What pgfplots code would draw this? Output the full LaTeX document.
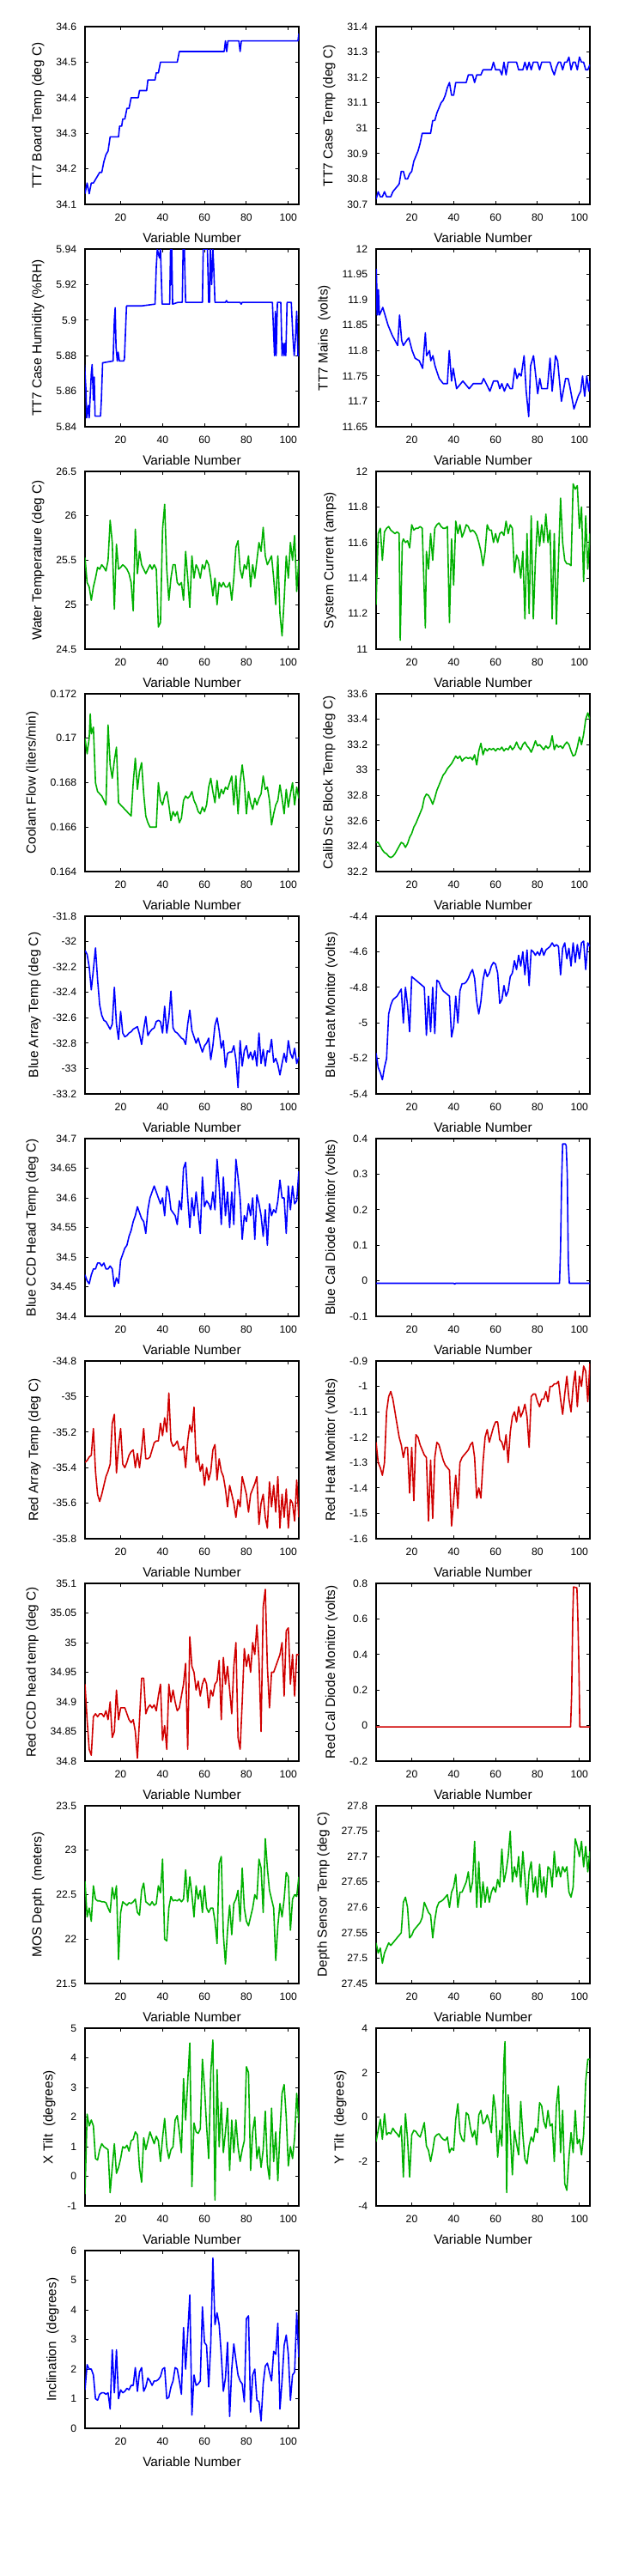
\documentclass[border=0pt]{standalone}
\usepackage{fontspec}
\setmainfont{Liberation Sans}
\usepackage{pgfplots}
\pgfplotsset{compat=1.18}
\definecolor{mblue}{RGB}{0,0,255}
\definecolor{mgreen}{RGB}{0,176,0}
\definecolor{mred}{RGB}{208,0,0}
\pgfplotsset{
 base/.style={scale only axis, width=124.5pt, height=103.5pt, xmin=3, xmax=105,
  xtick={20,40,60,80,100}, xticklabels={20,40,60,80,100},
  tick align=inside, major tick length=2pt, minor tick num=0,
  scaled ticks=false,
  axis line style={line width=0.9pt},
  every tick/.style={black,line width=0.5pt},
  tick label style={font=\fontsize{6.1}{7}\selectfont},
  xticklabel style={yshift=-1.8pt},
  yticklabel style={xshift=-1.4pt},
  xlabel={Variable Number},
  xlabel style={font=\fontsize{7.7}{9}\selectfont},
  ylabel style={font=\fontsize{7.7}{9}\selectfont},
  every axis plot/.append style={line width=0.8pt, line join=round},
 },
 bl/.style={mblue}, gr/.style={mgreen}, rd/.style={mred},
}
\begin{document}
\begin{tikzpicture}
% Row 1
\begin{axis}[base, at={(49.5pt,-119pt)}, ymin=34.1, ymax=34.6,
 ytick={34.1,34.2,34.3,34.4,34.5,34.6}, yticklabels={34.1,34.2,34.3,34.4,34.5,34.6},
 ylabel={TT7 Board Temp (deg C)}]
\addplot[bl] coordinates {(3,34.13)(4,34.16)(5,34.13)(6,34.16)(7,34.16)(8,34.17)(9,34.18)(10,34.19)(11,34.19)(12,34.22)(13,34.24)(14,34.25)(15,34.29)(19,34.29)(19.5,34.32)(20.5,34.32)(21,34.34)(22,34.34)(23,34.37)(24,34.37)(25,34.40)(28.4,34.40)(29,34.42)(32.4,34.42)(33,34.45)(36.4,34.45)(37,34.47)(38,34.47)(39,34.50)(47,34.50)(48,34.53)(69.4,34.53)(70,34.56)(70.6,34.53)(71.2,34.56)(76.4,34.56)(77,34.53)(77.6,34.56)(104.6,34.56)(105,34.58)};
\end{axis}
\begin{axis}[base, at={(219pt,-119pt)}, ymin=30.7, ymax=31.4,
 ytick={30.7,30.8,30.9,31,31.1,31.2,31.3,31.4}, yticklabels={30.7,30.8,30.9,31,31.1,31.2,31.3,31.4},
 ylabel={TT7 Case Temp (deg C)}]
\addplot[bl] coordinates {(3,30.72)(4,30.75)(5,30.73)(6,30.73)(7,30.75)(8,30.73)(10,30.73)(11,30.75)(12,30.76)(13,30.77)(14,30.78)(15,30.83)(16,30.83)(17,30.80)(18,30.80)(19,30.82)(20,30.83)(21,30.87)(22,30.89)(23,30.91)(24,30.94)(25,30.98)(29,30.98)(30,31.03)(31,31.03)(32,31.06)(33,31.08)(34,31.10)(35,31.11)(36,31.13)(37,31.16)(38,31.18)(39,31.13)(40,31.13)(41,31.18)(46,31.18)(47,31.21)(49,31.21)(50,31.18)(51,31.21)(53,31.21)(54,31.23)(58,31.23)(59,31.26)(60,31.23)(62,31.23)(63,31.21)(64,31.26)(65,31.21)(66,31.26)(70,31.26)(71,31.23)(73,31.23)(74,31.26)(75,31.23)(76,31.26)(77,31.23)(78,31.26)(80,31.26)(81,31.23)(82,31.26)(86,31.26)(87,31.23)(88,31.21)(89,31.24)(90,31.26)(91,31.26)(92,31.23)(93,31.26)(94,31.26)(95,31.28)(96,31.23)(97,31.26)(98,31.26)(99,31.23)(100,31.28)(101,31.26)(102,31.26)(103,31.23)(104,31.23)(105,31.25)};
\end{axis}
% Row 2
\begin{axis}[base, at={(49.5pt,-248.5pt)}, ymin=5.84, ymax=5.94,
 ytick={5.84,5.86,5.88,5.9,5.92,5.94}, yticklabels={5.84,5.86,5.88,5.9,5.92,5.94},
 ylabel={TT7 Case Humidity (\%RH)}]
\addplot[bl] coordinates {(2.8,5.875)(3.4,5.862)(3.8,5.845)(4.6,5.852)(5,5.845)(6,5.87)(6.4,5.875)(7,5.855)(7.4,5.868)(7.8,5.846)(10.4,5.846)(10.8,5.855)(11.4,5.876)(16.4,5.877)(17,5.9)(17.4,5.907)(17.8,5.885)(18.4,5.877)(18.8,5.882)(19.4,5.877)(21.4,5.877)(21.8,5.878)(22.8,5.908)(30,5.908)(36.4,5.909)(37,5.93)(37.5,5.94)(38.5,5.935)(39,5.94)(39.8,5.909)(43.4,5.909)(43.8,5.94)(44.1,5.92)(44.4,5.94)(44.8,5.909)(47.4,5.91)(49.4,5.91)(49.8,5.94)(50.4,5.94)(51,5.91)(59,5.91)(59.4,5.94)(61.4,5.94)(62,5.91)(62.4,5.91)(62.8,5.94)(63.4,5.92)(64,5.94)(64.4,5.93)(65,5.91)(70,5.91)(70.5,5.911)(71,5.91)(77,5.91)(77.5,5.909)(78,5.91)(92.4,5.91)(93.4,5.88)(93.8,5.905)(94.2,5.88)(94.8,5.91)(96.4,5.91)(97,5.88)(97.5,5.887)(98,5.88)(98.4,5.887)(98.8,5.88)(99.4,5.91)(101.4,5.91)(102.2,5.89)(102.8,5.88)(103.4,5.89)(104,5.905)(104.6,5.88)(105,5.88)};
\end{axis}
\begin{axis}[base, at={(219pt,-248.5pt)}, ymin=11.65, ymax=12,
 ytick={11.65,11.7,11.75,11.8,11.85,11.9,11.95,12}, yticklabels={11.65,11.7,11.75,11.8,11.85,11.9,11.95,12},
 ylabel={TT7 Mains\ \ (volts)}]
\addplot[bl] coordinates {(2.8,11.87)(3.1,11.96)(3.7,11.87)(4.1,11.92)(4.6,11.87)(5.7,11.88)(6.2,11.885)(8.7,11.85)(10.7,11.83)(13.3,11.81)(14.2,11.87)(15.2,11.82)(16,11.81)(17.6,11.82)(18.6,11.825)(20.2,11.80)(21.6,11.785)(23.6,11.78)(25.2,11.765)(26.5,11.835)(27.1,11.79)(28.5,11.80)(29.1,11.78)(30.1,11.79)(31.1,11.77)(33.1,11.745)(35,11.735)(37,11.735)(37.9,11.80)(39,11.74)(39.8,11.765)(41.4,11.725)(44.4,11.74)(47.4,11.725)(49.4,11.735)(53.3,11.735)(54.3,11.745)(57.3,11.72)(59,11.74)(61,11.74)(62,11.725)(63,11.735)(64.2,11.72)(65.6,11.735)(67,11.725)(68,11.725)(69.2,11.765)(70.2,11.745)(71.2,11.755)(72.2,11.75)(73.6,11.79)(74.6,11.72)(75.8,11.67)(76.7,11.77)(78.1,11.79)(80.1,11.715)(81.1,11.745)(82,11.725)(84.7,11.725)(86,11.785)(87,11.72)(88.6,11.79)(89.6,11.78)(91.4,11.70)(93.4,11.745)(94.6,11.745)(95.4,11.73)(97.4,11.685)(99.4,11.71)(100.6,11.72)(101.5,11.75)(102.5,11.71)(103.5,11.75)(104.5,11.72)(105,11.74)};
\end{axis}
% Row 3
\begin{axis}[base, at={(49.5pt,-378pt)}, ymin=24.5, ymax=26.5,
 ytick={24.5,25,25.5,26,26.5}, yticklabels={24.5,25,25.5,26,26.5},
 ylabel={Water Temperature (deg C)}]
\addplot[gr] coordinates {(3,25.53)(4,25.25)(5,25.2)(6,25.05)(7,25.2)(8,25.3)(9,25.42)(10,25.4)(11,25.45)(12,25.42)(13,25.38)(14,25.5)(15,25.95)(16,25.7)(17,24.95)(18,25.68)(19,25.4)(20,25.42)(21,25.45)(22,25.43)(23,25.4)(24,25.35)(25,25.25)(26,24.93)(27,25.85)(28,25.35)(29,25.6)(30,25.45)(31,25.4)(32,25.35)(33,25.4)(34,25.45)(35,25.4)(36,25.45)(37,25.4)(38,24.75)(39,24.8)(40,25.85)(41,26.13)(42,25.4)(43,25.05)(44,25.3)(45,25.45)(46,25.45)(47,25.25)(48,25.22)(49,25.25)(50,25.05)(51,25.6)(52,25.3)(53,24.97)(54,25.55)(55,25.3)(56,25.45)(57,25.4)(58,25.3)(59,25.45)(60,25.4)(61,25.5)(62,25.45)(63,25.3)(64,25.1)(65,25.3)(66,25.0)(67,25.25)(68,25.2)(69,25.25)(70,25.2)(71,25.2)(72,25.25)(73,25.05)(74,25.3)(75,25.65)(76,25.72)(77,25.4)(78,25.3)(79,25.45)(80,25.4)(81,25.55)(82,25.2)(83,25.45)(84,25.3)(85,25.5)(86,25.7)(87,25.6)(88,25.87)(89,25.55)(90,25.45)(91,25.5)(92,25.55)(93,25.3)(94,25.0)(95,25.55)(96,24.9)(97,24.65)(98,25.05)(99,25.55)(100,25.3)(101,25.7)(102,25.5)(103,25.78)(104,25.15)(105,25.5)};
\end{axis}
\begin{axis}[base, at={(219pt,-378pt)}, ymin=11, ymax=12,
 ytick={11,11.2,11.4,11.6,11.8,12}, yticklabels={11,11.2,11.4,11.6,11.8,12},
 ylabel={System Current (amps)}]
\addplot[gr] coordinates {(3,11.25)(4,11.65)(5,11.68)(6,11.5)(7,11.66)(8,11.68)(9,11.69)(10,11.67)(11,11.66)(12,11.65)(13,11.66)(14,11.65)(14.5,11.05)(15.5,11.6)(16,11.62)(17,11.6)(18,11.61)(19,11.57)(20,11.7)(21,11.67)(22,11.68)(23,11.68)(24,11.69)(25,11.68)(26.5,11.12)(27,11.55)(28,11.45)(29,11.65)(30,11.5)(31,11.68)(32,11.7)(33,11.71)(34,11.69)(35,11.68)(36,11.68)(37,11.69)(38,11.15)(39,11.62)(40,11.36)(41,11.72)(42,11.65)(43,11.7)(44,11.63)(45,11.66)(46,11.7)(47,11.69)(48,11.66)(49,11.67)(50,11.66)(51,11.64)(52,11.6)(53,11.55)(54,11.47)(55,11.55)(56,11.7)(57,11.67)(58,11.67)(59,11.6)(60,11.65)(61,11.6)(62,11.65)(63,11.66)(64,11.64)(65,11.72)(66,11.65)(67,11.7)(68,11.68)(69,11.43)(70,11.53)(71,11.5)(72,11.4)(73,11.55)(74,11.17)(75,11.65)(76,11.2)(77,11.75)(78,11.17)(79,11.5)(80,11.72)(81,11.58)(82,11.7)(83,11.6)(84,11.76)(85,11.6)(86,11.67)(87,11.17)(88,11.65)(89,11.14)(90,11.5)(91,11.85)(92,11.6)(93,11.5)(94,11.48)(95,11.48)(96,11.47)(97,11.93)(98,11.9)(99,11.92)(100,11.68)(101,11.8)(102,11.38)(103,11.75)(104,11.45)(105,11.65)};
\end{axis}
% Row 4
\begin{axis}[base, at={(49.5pt,-507.5pt)}, ymin=0.164, ymax=0.172,
 ytick={0.164,0.166,0.168,0.17,0.172}, yticklabels={0.164,0.166,0.168,0.17,0.172},
 ylabel={Coolant Flow (liters/min)}]
\addplot[gr] coordinates {(3,0.1700)(4,0.1693)(5,0.1700)(5.5,0.1711)(6,0.1702)(7,0.1705)(8,0.1680)(9,0.1676)(10,0.1675)(11,0.1674)(12,0.1672)(13,0.1670)(14,0.1706)(15,0.1688)(16,0.1682)(17,0.1690)(18,0.1696)(19,0.1671)(20,0.1670)(21,0.1669)(22,0.1668)(23,0.1667)(24,0.1666)(25,0.1665)(26,0.1680)(27,0.1691)(28,0.1677)(29,0.1685)(30,0.1689)(31,0.1675)(32,0.1665)(33,0.1662)(34,0.1660)(35,0.1660)(36,0.1660)(37,0.1660)(38,0.1680)(39,0.1672)(40,0.1670)(41,0.1674)(42,0.1676)(43,0.1670)(44,0.1663)(45,0.1667)(46,0.1665)(47,0.1667)(48,0.1662)(49,0.1664)(50,0.1672)(51,0.1674)(52,0.1673)(53,0.1674)(54,0.1676)(55,0.1672)(56,0.1670)(57,0.1667)(58,0.1666)(59,0.1669)(60,0.1667)(61,0.1670)(62,0.1678)(63,0.1682)(64,0.1676)(65,0.1671)(66,0.1681)(67,0.1673)(68,0.1677)(69,0.1675)(70,0.1678)(71,0.1677)(72,0.1680)(73,0.1683)(74,0.1670)(75,0.1683)(76,0.1666)(77,0.1680)(78,0.1688)(79,0.1680)(80,0.1666)(81,0.1676)(82,0.1671)(83,0.1668)(84,0.1673)(85,0.1670)(86,0.1673)(87,0.1675)(88,0.1683)(89,0.1677)(90,0.1678)(91,0.1672)(92,0.1661)(93,0.1666)(94,0.1670)(95,0.1672)(96,0.1679)(97,0.1673)(98,0.1666)(99,0.1677)(100,0.1669)(101,0.1675)(102,0.1680)(103,0.1670)(104,0.1678)(105,0.1673)};
\end{axis}
\begin{axis}[base, at={(219pt,-507.5pt)}, ymin=32.2, ymax=33.6,
 ytick={32.2,32.4,32.6,32.8,33,33.2,33.4,33.6}, yticklabels={32.2,32.4,32.6,32.8,33,33.2,33.4,33.6},
 ylabel={Calib Src Block Temp (deg C)}]
\addplot[gr] coordinates {(3,32.43)(4,32.43)(5,32.40)(6,32.37)(7,32.35)(8,32.34)(9,32.32)(10,32.31)(11,32.32)(12,32.34)(13,32.37)(14,32.40)(15,32.43)(16,32.42)(17,32.39)(18,32.42)(19,32.47)(20,32.50)(21,32.55)(22,32.58)(23,32.62)(24,32.66)(25,32.70)(26,32.78)(27,32.81)(28,32.80)(29,32.77)(30,32.73)(31,32.78)(32,32.84)(33,32.88)(34,32.92)(35,32.96)(36,32.98)(37,33.01)(38,33.03)(39,33.05)(40,33.08)(41,33.11)(42,33.09)(43,33.11)(44,33.07)(45,33.09)(46,33.10)(47,33.09)(48,33.10)(49,33.08)(50,33.12)(51,33.04)(52,33.15)(53,33.21)(54,33.12)(55,33.17)(56,33.15)(57,33.17)(58,33.16)(59,33.17)(60,33.15)(61,33.17)(62,33.16)(63,33.18)(64,33.15)(65,33.17)(66,33.16)(67,33.19)(68,33.16)(69,33.18)(70,33.22)(71,33.18)(72,33.16)(73,33.20)(74,33.22)(75,33.19)(76,33.17)(77,33.14)(78,33.18)(79,33.23)(80,33.19)(81,33.20)(82,33.18)(83,33.16)(84,33.19)(85,33.17)(86,33.19)(87,33.27)(88,33.16)(89,33.20)(90,33.18)(91,33.19)(92,33.17)(93,33.20)(94,33.22)(95,33.20)(96,33.15)(97,33.11)(98,33.12)(99,33.18)(100,33.26)(101,33.20)(102,33.28)(103,33.40)(104,33.45)(105,33.40)};
\end{axis}
% Row 5
\begin{axis}[base, at={(49.5pt,-637pt)}, ymin=-33.2, ymax=-31.8,
 ytick={-33.2,-33,-32.8,-32.6,-32.4,-32.2,-32,-31.8}, yticklabels={-33.2,-33,-32.8,-32.6,-32.4,-32.2,-32,-31.8},
 ylabel={Blue Array Temp (deg C)}]
\addplot[bl] coordinates {(3,-32.07)(4,-32.1)(5,-32.2)(6,-32.38)(7,-32.22)(8,-32.05)(9,-32.3)(10,-32.5)(11,-32.58)(12,-32.62)(13,-32.63)(14,-32.66)(15,-32.69)(16,-32.65)(17,-32.36)(18,-32.65)(19,-32.77)(20,-32.55)(21,-32.72)(22,-32.75)(23,-32.74)(24,-32.72)(25,-32.71)(26,-32.69)(27,-32.68)(28,-32.67)(29,-32.73)(30,-32.81)(31,-32.69)(32,-32.59)(33,-32.74)(34,-32.71)(35,-32.69)(36,-32.68)(37,-32.63)(38,-32.62)(39,-32.63)(40,-32.72)(41,-32.51)(42,-32.72)(43,-32.6)(44,-32.39)(45,-32.68)(46,-32.71)(47,-32.72)(48,-32.74)(49,-32.76)(50,-32.77)(51,-32.81)(52,-32.65)(53,-32.54)(54,-32.7)(55,-32.75)(56,-32.8)(57,-32.76)(58,-32.82)(59,-32.87)(60,-32.82)(61,-32.8)(62,-32.76)(63,-32.93)(64,-32.82)(65,-32.66)(66,-32.6)(67,-32.7)(68,-32.84)(69,-32.78)(70,-32.99)(71,-32.88)(72,-32.87)(73,-32.87)(74,-32.82)(75,-32.93)(76,-33.15)(77,-32.78)(78,-32.98)(79,-32.86)(80,-32.82)(81,-32.92)(82,-32.87)(83,-32.93)(84,-32.86)(85,-32.98)(86,-32.72)(87,-32.96)(88,-32.85)(89,-32.98)(90,-32.86)(91,-32.87)(92,-32.77)(93,-32.95)(94,-32.92)(95,-32.97)(96,-33.05)(97,-32.96)(98,-32.88)(99,-32.95)(100,-32.78)(101,-32.88)(102,-32.92)(103,-32.84)(104,-32.96)(105,-32.91)};
\end{axis}
\begin{axis}[base, at={(219pt,-637pt)}, ymin=-5.4, ymax=-4.4,
 ytick={-5.4,-5.2,-5,-4.8,-4.6,-4.4}, yticklabels={-5.4,-5.2,-5,-4.8,-4.6,-4.4},
 ylabel={Blue Heat Monitor (volts)}]
\addplot[bl] coordinates {(3,-5.17)(4,-5.25)(5,-5.28)(6,-5.32)(7,-5.25)(8,-5.2)(9,-4.95)(10,-4.9)(11,-4.87)(12,-4.86)(13,-4.85)(14,-4.83)(15,-4.81)(16,-5.0)(17,-4.80)(18,-4.90)(19,-5.05)(20,-4.74)(21,-4.75)(22,-4.76)(23,-4.77)(24,-4.78)(25,-4.79)(26,-4.80)(27,-5.07)(28,-4.85)(29,-5.05)(30,-4.80)(31,-5.06)(32,-4.76)(33,-4.77)(34,-4.80)(35,-4.82)(36,-4.83)(37,-4.84)(38,-4.85)(39,-5.08)(40,-5.02)(41,-4.85)(42,-5.0)(43,-4.82)(44,-4.78)(45,-4.78)(46,-4.77)(47,-4.75)(48,-4.72)(49,-4.70)(50,-4.75)(51,-4.88)(52,-4.95)(53,-4.88)(54,-4.76)(55,-4.70)(56,-4.74)(57,-4.72)(58,-4.68)(59,-4.66)(60,-4.67)(61,-4.72)(62,-4.89)(63,-4.87)(64,-4.79)(65,-4.85)(66,-4.82)(67,-4.74)(68,-4.72)(69,-4.65)(70,-4.70)(71,-4.62)(72,-4.68)(73,-4.60)(74,-4.73)(75,-4.59)(76,-4.79)(77,-4.59)(78,-4.60)(79,-4.62)(80,-4.60)(81,-4.62)(82,-4.58)(83,-4.62)(84,-4.59)(85,-4.58)(86,-4.57)(87,-4.55)(88,-4.57)(89,-4.56)(90,-4.57)(91,-4.73)(92,-4.58)(93,-4.55)(94,-4.64)(95,-4.58)(96,-4.68)(97,-4.55)(98,-4.66)(99,-4.56)(100,-4.64)(101,-4.55)(102,-4.54)(103,-4.70)(104,-4.55)(105,-4.57)};
\end{axis}
% Row 6
\begin{axis}[base, at={(49.5pt,-766.5pt)}, ymin=34.4, ymax=34.7,
 ytick={34.4,34.45,34.5,34.55,34.6,34.65,34.7}, yticklabels={34.4,34.45,34.5,34.55,34.6,34.65,34.7},
 ylabel={Blue CCD Head Temp (deg C)}]
\addplot[bl] coordinates {(3,34.47)(4,34.46)(5,34.455)(6,34.47)(7,34.48)(8,34.48)(9,34.49)(10,34.49)(11,34.485)(12,34.49)(13,34.48)(14,34.48)(15,34.485)(16,34.48)(17,34.45)(18,34.465)(19,34.456)(20,34.495)(21,34.505)(22,34.515)(23,34.52)(24,34.535)(25,34.545)(26,34.56)(27,34.57)(28,34.585)(29,34.575)(30,34.565)(31,34.56)(32,34.54)(33,34.58)(34,34.60)(35,34.61)(36,34.62)(37,34.61)(38,34.60)(39,34.59)(40,34.60)(41,34.57)(42,34.62)(43,34.61)(44,34.58)(45,34.575)(46,34.57)(47,34.555)(48,34.595)(49,34.58)(50,34.65)(51,34.66)(52,34.60)(53,34.55)(54,34.60)(55,34.57)(56,34.61)(57,34.575)(58,34.54)(59,34.635)(60,34.585)(61,34.595)(62,34.59)(63,34.58)(64,34.61)(65,34.58)(66,34.665)(67,34.62)(68,34.555)(69,34.635)(70,34.57)(71,34.61)(72,34.55)(73,34.61)(74,34.555)(75,34.665)(76,34.635)(77,34.60)(78,34.53)(79,34.57)(80,34.56)(81,34.59)(82,34.57)(83,34.60)(84,34.53)(85,34.605)(86,34.59)(87,34.57)(88,34.535)(89,34.58)(90,34.52)(91,34.59)(92,34.57)(93,34.58)(94,34.575)(95,34.595)(96,34.63)(97,34.6)(98,34.6)(99,34.54)(100,34.62)(101,34.58)(102,34.62)(103,34.59)(104,34.595)(105,34.645)};
\end{axis}
\begin{axis}[base, at={(219pt,-766.5pt)}, ymin=-0.1, ymax=0.4,
 ytick={-0.1,0,0.1,0.2,0.3,0.4}, yticklabels={-0.1,0,0.1,0.2,0.3,0.4},
 ylabel={Blue Cal Diode Monitor (volts)}]
\addplot[bl] coordinates {(3,-0.007)(40,-0.007)(40.5,-0.009)(41,-0.007)(90.5,-0.007)(91,0.09)(91.5,0.28)(92,0.385)(93.3,0.385)(93.7,0.38)(94.2,0.3)(94.7,0.05)(95.2,-0.007)(105,-0.007)};
\end{axis}
% Row 7
\begin{axis}[base, at={(49.5pt,-896pt)}, ymin=-35.8, ymax=-34.8,
 ytick={-35.8,-35.6,-35.4,-35.2,-35,-34.8}, yticklabels={-35.8,-35.6,-35.4,-35.2,-35,-34.8},
 ylabel={Red Array Temp (deg C)}]
\addplot[rd] coordinates {(3,-35.37)(4,-35.36)(5,-35.34)(6,-35.33)(7,-35.18)(8,-35.42)(9,-35.55)(10,-35.59)(11,-35.55)(12,-35.50)(13,-35.45)(14,-35.42)(15,-35.38)(16,-35.15)(17,-35.10)(18,-35.43)(19,-35.28)(20,-35.18)(21,-35.38)(22,-35.40)(23,-35.37)(24,-35.33)(25,-35.31)(26,-35.30)(27,-35.40)(28,-35.32)(29,-35.40)(30,-35.30)(31,-35.18)(32,-35.35)(33,-35.35)(34,-35.34)(35,-35.30)(36,-35.26)(37,-35.25)(38,-35.25)(39,-35.15)(40,-35.22)(41,-35.12)(42,-35.20)(43,-34.98)(44,-35.25)(45,-35.28)(46,-35.27)(47,-35.25)(48,-35.30)(49,-35.30)(50,-35.28)(51,-35.40)(52,-35.25)(53,-35.16)(54,-35.20)(55,-35.06)(56,-35.37)(57,-35.33)(58,-35.42)(59,-35.38)(60,-35.50)(61,-35.40)(62,-35.47)(63,-35.42)(64,-35.30)(65,-35.27)(66,-35.47)(67,-35.35)(68,-35.42)(69,-35.45)(70,-35.52)(71,-35.62)(72,-35.50)(73,-35.55)(74,-35.60)(75,-35.68)(76,-35.58)(77,-35.62)(78,-35.45)(79,-35.50)(80,-35.55)(81,-35.65)(82,-35.55)(83,-35.52)(84,-35.49)(85,-35.45)(86,-35.72)(87,-35.60)(88,-35.55)(89,-35.68)(90,-35.74)(91,-35.48)(92,-35.62)(93,-35.50)(94,-35.65)(95,-35.45)(96,-35.74)(97,-35.55)(98,-35.68)(99,-35.52)(100,-35.74)(101,-35.58)(102,-35.60)(103,-35.70)(104,-35.47)(105,-35.68)};
\end{axis}
\begin{axis}[base, at={(219pt,-896pt)}, ymin=-1.6, ymax=-0.9,
 ytick={-1.6,-1.5,-1.4,-1.3,-1.2,-1.1,-1,-0.9}, yticklabels={-1.6,-1.5,-1.4,-1.3,-1.2,-1.1,-1,-0.9},
 ylabel={Red Heat Monitor (volts)}]
\addplot[rd] coordinates {(3,-1.22)(4,-1.30)(5,-1.32)(6,-1.35)(7,-1.30)(8,-1.10)(9,-1.04)(10,-1.02)(11,-1.05)(12,-1.10)(13,-1.15)(14,-1.20)(15,-1.23)(16,-1.28)(17,-1.24)(18,-1.24)(19,-1.42)(20,-1.24)(21,-1.45)(22,-1.19)(23,-1.20)(24,-1.23)(25,-1.25)(26,-1.27)(27,-1.28)(28,-1.53)(29,-1.29)(30,-1.52)(31,-1.28)(32,-1.22)(33,-1.23)(34,-1.26)(35,-1.29)(36,-1.31)(37,-1.32)(38,-1.33)(39,-1.55)(40,-1.45)(41,-1.35)(42,-1.48)(43,-1.30)(44,-1.28)(45,-1.27)(46,-1.26)(47,-1.25)(48,-1.23)(49,-1.22)(50,-1.28)(51,-1.44)(52,-1.40)(53,-1.44)(54,-1.30)(55,-1.20)(56,-1.17)(57,-1.22)(58,-1.19)(59,-1.16)(60,-1.14)(61,-1.14)(62,-1.21)(63,-1.22)(64,-1.25)(65,-1.19)(66,-1.30)(67,-1.18)(68,-1.12)(69,-1.10)(70,-1.14)(71,-1.08)(72,-1.12)(73,-1.10)(74,-1.07)(75,-1.12)(76,-1.24)(77,-1.04)(78,-1.03)(79,-1.03)(80,-1.06)(81,-1.08)(82,-1.05)(83,-1.05)(84,-1.02)(85,-1.06)(86,-1.00)(87,-1.00)(88,-0.99)(89,-0.99)(90,-0.98)(91,-1.05)(92,-1.11)(93,-1.03)(94,-0.96)(95,-1.05)(96,-1.10)(97,-1.00)(98,-0.94)(99,-1.08)(100,-0.96)(101,-1.00)(102,-0.92)(103,-0.94)(104,-1.06)(105,-0.91)};
\end{axis}
% Row 8
\begin{axis}[base, at={(49.5pt,-1025.5pt)}, ymin=34.8, ymax=35.1,
 ytick={34.8,34.85,34.9,34.95,35,35.05,35.1}, yticklabels={34.8,34.85,34.9,34.95,35,35.05,35.1},
 ylabel={Red CCD head temp (deg C)}]
\addplot[rd] coordinates {(3,34.93)(4,34.87)(5,34.82)(6,34.81)(7,34.875)(8,34.88)(9,34.875)(10,34.88)(11,34.88)(12,34.875)(13,34.885)(14,34.87)(15,34.90)(16,34.84)(17,34.85)(18,34.92)(19,34.87)(20,34.89)(21,34.89)(22,34.89)(23,34.88)(24,34.87)(25,34.865)(26,34.87)(27,34.85)(28,34.805)(29,34.87)(30,34.94)(31,34.94)(32,34.88)(33,34.89)(34,34.895)(35,34.89)(36,34.895)(37,34.885)(38,34.91)(39,34.93)(40,34.835)(41,34.86)(42,34.82)(43,34.93)(44,34.90)(45,34.92)(46,34.90)(47,34.885)(48,34.89)(49,34.91)(50,34.93)(51,34.965)(52,34.82)(53,35.01)(54,34.96)(55,34.95)(56,34.92)(57,34.935)(58,34.91)(59,34.93)(60,34.94)(61,34.93)(62,34.89)(63,34.92)(64,34.91)(65,34.93)(66,34.935)(67,34.97)(68,34.87)(69,34.975)(70,34.93)(71,34.96)(72,34.92)(73,34.88)(74,34.96)(75,35.0)(76,34.84)(77,34.82)(78,34.90)(79,34.99)(80,34.96)(81,34.98)(82,34.95)(83,35.00)(84,34.98)(85,35.03)(86,34.97)(87,34.85)(88,35.06)(89,35.09)(90,34.96)(91,34.89)(92,34.95)(93,34.95)(94,34.96)(95,34.97)(96,34.98)(97,35.0)(98,34.91)(99,35.02)(100,35.025)(101,34.93)(102,34.98)(103,34.91)(104,34.98)(105,34.98)};
\end{axis}
\begin{axis}[base, at={(219pt,-1025.5pt)}, ymin=-0.2, ymax=0.8,
 ytick={-0.2,0,0.2,0.4,0.6,0.8}, yticklabels={-0.2,0,0.2,0.4,0.6,0.8},
 ylabel={Red Cal Diode Monitor (volts)}]
\addplot[rd] coordinates {(3,-0.007)(95.8,-0.007)(96.3,0.18)(96.8,0.6)(97.2,0.78)(98.8,0.775)(99.2,0.63)(99.7,0.37)(100.2,-0.007)(105,-0.007)};
\end{axis}
% Row 9
\begin{axis}[base, at={(49.5pt,-1155pt)}, ymin=21.5, ymax=23.5,
 ytick={21.5,22,22.5,23,23.5}, yticklabels={21.5,22,22.5,23,23.5},
 ylabel={MOS Depth\ \ (meters)}]
\addplot[gr] coordinates {(3,22.65)(4,22.25)(5,22.35)(6,22.2)(7,22.6)(8,22.45)(9,22.43)(10,22.43)(11,22.42)(12,22.42)(13,22.41)(14,22.35)(15,22.3)(16,22.58)(17,22.45)(18,22.6)(19,21.77)(20,22.3)(21,22.42)(22,22.40)(23,22.38)(24,22.41)(25,22.40)(26,22.42)(27,22.45)(28,22.3)(29,22.27)(30,22.55)(31,22.63)(32,22.42)(33,22.4)(34,22.38)(35,22.42)(36,22.38)(37,22.4)(38,22.6)(39,22.52)(40,22.9)(41,22.0)(42,21.98)(43,22.35)(44,22.48)(45,22.43)(46,22.44)(47,22.43)(48,22.45)(49,22.42)(50,22.45)(51,22.78)(52,22.42)(53,22.7)(54,22.5)(55,22.25)(56,22.6)(57,22.45)(58,22.55)(59,22.3)(60,22.6)(61,22.35)(62,22.3)(63,22.35)(64,22.35)(65,22.2)(66,21.95)(67,22.85)(68,22.93)(69,22.05)(70,21.72)(71,22.1)(72,22.38)(73,22.05)(74,22.4)(75,22.45)(76,22.55)(77,22.2)(78,22.8)(79,22.35)(80,22.2)(81,22.15)(82,22.25)(83,22.35)(84,22.5)(85,22.45)(86,22.9)(87,22.8)(88,22.3)(89,23.13)(90,22.8)(91,22.55)(92,22.45)(93,22.35)(94,21.76)(95,22.15)(96,22.4)(97,22.25)(98,22.45)(99,22.75)(100,22.7)(101,22.1)(102,22.45)(103,22.5)(104,22.48)(105,22.7)};
\end{axis}
\begin{axis}[base, at={(219pt,-1155pt)}, ymin=27.45, ymax=27.8,
 ytick={27.45,27.5,27.55,27.6,27.65,27.7,27.75,27.8}, yticklabels={27.45,27.5,27.55,27.6,27.65,27.7,27.75,27.8},
 ylabel={Depth Sensor Temp (deg C)}]
\addplot[gr] coordinates {(3,27.53)(4,27.51)(5,27.52)(6,27.49)(7,27.51)(8,27.52)(9,27.53)(10,27.525)(11,27.53)(12,27.535)(13,27.54)(14,27.545)(15,27.55)(16,27.61)(17,27.62)(18,27.6)(19,27.54)(20,27.545)(21,27.555)(22,27.56)(23,27.565)(24,27.57)(25,27.58)(26,27.61)(27,27.60)(28,27.59)(29,27.585)(30,27.54)(31,27.575)(32,27.6)(33,27.61)(34,27.612)(35,27.615)(36,27.62)(37,27.625)(38,27.60)(39,27.63)(40,27.64)(41,27.665)(42,27.60)(43,27.63)(44,27.63)(45,27.64)(46,27.65)(47,27.67)(48,27.63)(49,27.65)(50,27.73)(51,27.6)(52,27.69)(53,27.6)(54,27.65)(55,27.61)(56,27.64)(57,27.61)(58,27.63)(59,27.64)(60,27.63)(61,27.655)(62,27.64)(63,27.715)(64,27.65)(65,27.67)(66,27.70)(67,27.75)(68,27.65)(69,27.68)(70,27.66)(71,27.7)(72,27.64)(73,27.71)(74,27.66)(75,27.605)(76,27.67)(77,27.69)(78,27.63)(79,27.66)(80,27.62)(81,27.685)(82,27.63)(83,27.66)(84,27.62)(85,27.68)(86,27.675)(87,27.64)(88,27.71)(89,27.66)(90,27.68)(91,27.66)(92,27.68)(93,27.67)(94,27.68)(95,27.63)(96,27.62)(97,27.64)(98,27.735)(99,27.72)(100,27.70)(101,27.73)(102,27.68)(103,27.72)(104,27.67)(105,27.71)};
\end{axis}
% Row 10
\begin{axis}[base, at={(49.5pt,-1284.5pt)}, ymin=-1, ymax=5,
 ytick={-1,0,1,2,3,4,5}, yticklabels={-1,0,1,2,3,4,5},
 ylabel={X Tilt\ \ (degrees)}]
\addplot[gr] coordinates {(3,-0.6)(4,2.1)(5,1.7)(6,1.9)(7,1.7)(8,0.6)(9,0.55)(10,0.9)(11,1.1)(12,1.0)(13,0.95)(14,0.9)(15,-0.55)(16,0.3)(17,1.1)(18,0.1)(19,0.3)(20,0.6)(21,1.0)(22,0.95)(23,1.05)(24,0.85)(25,1.2)(26,1.25)(27,1.5)(28,1.4)(29,0.3)(30,-0.2)(31,1.3)(32,0.9)(33,1.2)(34,1.5)(35,1.3)(36,1.1)(37,1.35)(38,1.2)(39,0.5)(40,1.3)(41,1.95)(42,1.0)(43,0.6)(44,0.9)(45,1.0)(46,1.9)(47,2.05)(48,1.5)(49,0.8)(50,3.3)(51,1.9)(52,3.2)(53,4.5)(54,-0.35)(55,1.8)(56,1.5)(57,1.45)(58,1.6)(59,3.95)(60,3.0)(61,1.7)(62,0.6)(63,3.5)(64,4.6)(65,-0.8)(66,3.6)(67,1.0)(68,2.5)(69,0.8)(70,1.5)(71,2.3)(72,0.2)(73,1.9)(74,0.8)(75,1.9)(76,1.0)(77,0.5)(78,0.9)(79,1.2)(80,3.7)(81,3.5)(82,0.2)(83,1.5)(84,2.0)(85,0.6)(86,1.0)(87,0.3)(88,0.9)(89,2.2)(90,0.4)(91,-0.1)(92,2.3)(93,0.5)(94,1.5)(95,-0.15)(96,1.5)(97,2.8)(98,3.1)(99,2.0)(100,0.35)(101,1.0)(102,0.6)(103,1.3)(104,2.8)(105,1.8)};
\end{axis}
\begin{axis}[base, at={(219pt,-1284.5pt)}, ymin=-4, ymax=4,
 ytick={-4,-2,0,2,4}, yticklabels={-4,-2,0,2,4},
 ylabel={Y Tilt\ \ (degrees)}]
\addplot[gr] coordinates {(3,-1.1)(4,-0.6)(5,-0.1)(6,-1.0)(7,0.15)(8,-0.8)(9,-0.7)(10,-0.75)(11,-0.5)(12,-0.65)(13,-0.75)(14,-0.9)(15,-0.4)(16,-2.7)(17,0.15)(18,-1.0)(19,-2.7)(20,-0.8)(21,-0.6)(22,-0.65)(23,-0.8)(24,-0.9)(25,-0.6)(26,-0.25)(27,-1.3)(28,-1.5)(29,-2.0)(30,-1.5)(31,-0.9)(32,-0.8)(33,-0.75)(34,-0.9)(35,-1.0)(36,-1.05)(37,-0.9)(38,-1.6)(39,-1.4)(40,-1.5)(41,-0.1)(42,0.6)(43,-0.7)(44,-1.0)(45,-1.1)(46,0.2)(47,0.1)(48,-0.5)(49,-0.9)(50,-0.6)(51,-1.25)(52,0.1)(53,0.3)(54,-0.3)(55,-0.2)(56,0.1)(57,-0.2)(58,-0.7)(59,1.0)(60,0.3)(61,-1.8)(62,-0.6)(63,-1.3)(64,2.6)(64.5,3.4)(65.3,-3.4)(66,1.0)(67,-0.6)(68,-2.6)(69,-0.6)(70,-1.2)(71,-1.7)(72,0.7)(73,-0.8)(74,-1.9)(75,-2.1)(76,-1.3)(77,-0.9)(78,-1.1)(79,-0.5)(80,-0.7)(81,0.65)(82,0.5)(83,-0.2)(84,-0.5)(85,0.3)(86,-0.4)(87,-0.3)(88,-2.0)(89,0.5)(90,1.4)(91,-1.6)(92,0.3)(93,-3.0)(94,-3.3)(95,-1.8)(96,-0.7)(97,-1.6)(98,0.3)(99,-1.2)(100,-1.0)(101,-1.7)(102,-0.8)(103,1.6)(104,2.6)(105,2.6)};
\end{axis}
% Row 11
\begin{axis}[base, at={(49.5pt,-1414pt)}, ymin=0, ymax=6,
 ytick={0,1,2,3,4,5,6}, yticklabels={0,1,2,3,4,5,6},
 ylabel={Inclination\ \ (degrees)}]
\addplot[bl] coordinates {(3,1.3)(4,2.15)(5,2.0)(6,2.0)(7,1.8)(8,1.0)(9,0.95)(10,1.15)(11,1.2)(12,1.2)(13,1.15)(14,1.2)(15,0.65)(16,2.65)(17,1.2)(18,2.65)(19,1.0)(20,1.3)(21,1.2)(22,1.25)(23,1.35)(24,1.3)(25,1.45)(26,1.45)(27,2.05)(28,1.25)(29,1.9)(30,2.05)(31,1.25)(32,1.4)(33,1.7)(34,1.6)(35,1.45)(36,1.6)(37,1.6)(38,1.65)(39,1.75)(40,2.0)(41,2.05)(42,1.0)(43,1.05)(44,1.4)(45,1.6)(46,2.05)(47,2.0)(48,1.6)(49,1.15)(50,3.4)(51,2.0)(52,3.2)(53,4.5)(54,0.45)(55,1.8)(56,1.45)(57,1.5)(58,1.6)(59,4.1)(60,2.9)(61,2.8)(62,1.4)(63,2.85)(64,5.75)(65,3.5)(66,3.9)(67,3.5)(68,2.5)(69,1.25)(70,1.7)(71,2.9)(72,0.4)(73,2.0)(74,2.85)(75,2.3)(76,1.8)(77,1.6)(78,1.5)(79,0.9)(80,3.7)(81,3.8)(82,0.55)(83,1.8)(84,2.0)(85,0.95)(86,0.9)(87,0.25)(88,1.5)(89,2.1)(90,2.2)(91,1.9)(92,1.6)(93,2.6)(94,2.5)(95,3.55)(96,0.65)(97,1.6)(98,2.8)(99,3.15)(100,2.5)(101,0.95)(102,1.8)(103,1.9)(104,3.9)(105,2.4)};
\end{axis}
\pgfresetboundingbox
\path[use as bounding box] (0pt,0pt) rectangle (375pt,-1500pt);
\end{tikzpicture}
\end{document}
